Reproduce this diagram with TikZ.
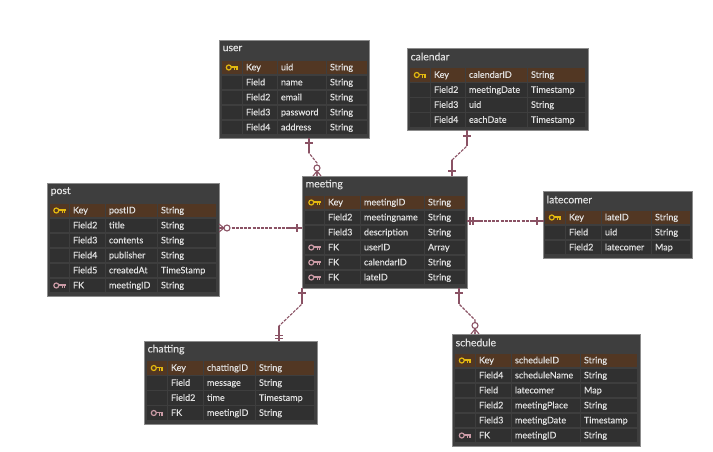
\documentclass[tikz,border=0pt]{standalone}
\usepackage{fontspec}
\setmainfont{Lato}[FakeBold=0.2]
\usetikzlibrary{fit}

\definecolor{tablebg}{HTML}{3E3E3E}
\definecolor{tableedge}{HTML}{8C8C8C}
\definecolor{cellbg}{HTML}{303030}
\definecolor{keybg}{HTML}{523723}
\definecolor{celltext}{HTML}{E2E2E2}
\definecolor{keygold}{HTML}{E3B80F}
\definecolor{keypink}{HTML}{C99AA5}
\definecolor{relline}{HTML}{8A5264}

\tikzset{
  erdbox/.style={draw=tableedge,line width=0.7pt,fill=tablebg,inner sep=0pt,outer sep=0pt},
  erdtitle/.style={anchor=west,inner sep=0pt,text=celltext,font=\fontsize{10.4}{12}\selectfont},
  cell/.style={anchor=west,fill=cellbg,text=celltext,inner xsep=3pt,inner ysep=0pt,outer sep=0pt,minimum height=13.4pt,text height=6.7pt,text depth=1.1pt,align=left,font=\fontsize{9}{10}\selectfont},
  keycell/.style={cell,fill=keybg},
  rel/.style={draw=relline,line width=1.1pt,dash pattern=on 3pt off 1.2pt},
  relmark/.style={draw=relline,line width=1.1pt},
  keyicon/.pic={
    \draw[line width=1.2pt] (-3.2,0) circle (2.5);
    \draw[line width=1.6pt] (-0.7,-0.4) -- (6,-0.4);
    \draw[line width=1.2pt] (2.6,-0.4) -- (2.6,2.6) (5,-0.4) -- (5,2.6);
  }
}

% column edges of the table being filled: icon, col1, col2, col3, right end
\newcommand{\erdcols}[5]{\def\colK{#1}\def\colA{#2}\def\colB{#3}\def\colC{#4}\def\colE{#5}}

% name, left, top, right, bottom, title
\newcommand{\erdtable}[6]{
  \node[erdbox,fit={(#2,#3) (#4,#5)}] (#1) {};
  \node[erdtitle] (#1-title) at (#2+3.5,#3+8.5) {#6};
}

% row: style, table, number, y, three texts
\newcommand{\erdrow}[7]{
  \pgfmathsetlengthmacro{\wK}{\colA-\colK-1}
  \pgfmathsetlengthmacro{\wA}{\colB-\colA-1-6}
  \pgfmathsetlengthmacro{\wB}{\colC-\colB-1-6}
  \pgfmathsetlengthmacro{\wC}{\colE-\colC-6}
  \node[#1,minimum width=\wK] (#2-#3-k) at (\colK,#4) {};
  \node[#1,text width=\wA] (#2-#3-a) at (\colA,#4) {#5};
  \node[#1,text width=\wB] (#2-#3-b) at (\colB,#4) {#6};
  \node[#1,text width=\wC] (#2-#3-c) at (\colC,#4) {#7};
}
\newcommand{\keyrow}[6]{\erdrow{keycell}{#1}{#2}{#3}{#4}{#5}{#6}
  \pic[color=keygold] at (#1-#2-k) {keyicon};}
\newcommand{\fkrow}[6]{\erdrow{cell}{#1}{#2}{#3}{#4}{#5}{#6}
  \pic[color=keypink] at (#1-#2-k) {keyicon};}
\newcommand{\plainrow}[6]{\erdrow{cell}{#1}{#2}{#3}{#4}{#5}{#6}}

\begin{document}
\begin{tikzpicture}[x=1pt,y=-1pt]
\useasboundingbox[fill=white] (0,0) rectangle (713,451);

% user
\erdtable{user}{219}{40}{369}{138}{user}
\erdcols{222}{243}{278}{327}{367}
\keyrow{user}{1}{67.5}{Key}{uid}{String}
\plainrow{user}{2}{82.5}{Field}{name}{String}
\plainrow{user}{3}{97.5}{Field2}{email}{String}
\plainrow{user}{4}{112.5}{Field3}{password}{String}
\plainrow{user}{5}{127.5}{Field4}{address}{String}

% calendar
\erdtable{calendar}{407}{48}{588}{130}{calendar}
\erdcols{410}{431}{466}{528}{585}
\keyrow{calendar}{1}{75}{Key}{calendarID}{String}
\plainrow{calendar}{2}{90}{Field2}{meetingDate}{Timestamp}
\plainrow{calendar}{3}{105}{Field3}{uid}{String}
\plainrow{calendar}{4}{120}{Field4}{eachDate}{Timestamp}

% meeting
\erdtable{meeting}{302}{176}{467}{288}{meeting}
\erdcols{305}{325}{361}{425}{465}
\keyrow{meeting}{1}{202.5}{Key}{meetingID}{String}
\plainrow{meeting}{2}{217.5}{Field2}{meetingname}{String}
\plainrow{meeting}{3}{232.5}{Field3}{description}{String}
\fkrow{meeting}{4}{247.5}{FK}{userID}{Array}
\fkrow{meeting}{5}{262.5}{FK}{calendarID}{String}
\fkrow{meeting}{6}{277.5}{FK}{lateID}{String}

% post
\erdtable{post}{47}{183}{219}{296}{post}
\erdcols{50}{70}{106}{158}{216}
\keyrow{post}{1}{210.5}{Key}{postID}{String}
\plainrow{post}{2}{225.5}{Field2}{title}{String}
\plainrow{post}{3}{240.5}{Field3}{contents}{String}
\plainrow{post}{4}{255.5}{Field4}{publisher}{String}
\plainrow{post}{5}{270.5}{Field5}{createdAt}{TimeStamp}
\fkrow{post}{6}{285.5}{FK}{meetingID}{String}

% latecomer
\erdtable{latecomer}{543}{191}{692}{258}{latecomer}
\erdcols{545}{566}{602}{652}{690}
\keyrow{latecomer}{1}{217.5}{Key}{lateID}{String}
\plainrow{latecomer}{2}{232.5}{Field}{uid}{String}
\plainrow{latecomer}{3}{247.5}{Field2}{latecomer}{Map}

% chatting
\erdtable{chatting}{144}{341}{317}{424}{chatting}
\erdcols{147}{168}{204}{256}{314}
\keyrow{chatting}{1}{368}{Key}{chattingID}{String}
\plainrow{chatting}{2}{383}{Field}{message}{String}
\plainrow{chatting}{3}{398}{Field2}{time}{Timestamp}
\fkrow{chatting}{4}{413}{FK}{meetingID}{String}

% schedule
\erdtable{schedule}{452}{334}{640}{446}{schedule}
\erdcols{455}{476}{512}{581}{637}
\keyrow{schedule}{1}{360.5}{Key}{scheduleID}{String}
\plainrow{schedule}{2}{375.5}{Field4}{scheduleName}{String}
\plainrow{schedule}{3}{390.5}{Field}{latecomer}{Map}
\plainrow{schedule}{4}{405.5}{Field2}{meetingPlace}{String}
\plainrow{schedule}{5}{420.5}{Field3}{meetingDate}{Timestamp}
\fkrow{schedule}{6}{435.5}{FK}{meetingID}{String}

% relations to meeting
\draw[rel] ([xshift=15pt]user.south) -- ++(0,15) -- ++(8,10) -- ([xshift=-67.5pt]meeting.north);
\draw[rel] ([xshift=-30.5pt]calendar.south) -- ++(0,16) -- ++(-15,14) -- ([xshift=67.5pt]meeting.north);
\draw[rel] ([yshift=11.5pt]post.east) -- ([yshift=4pt]meeting.west);
\draw[rel] ([yshift=3.5pt]meeting.east |- latecomer.west) -- ([yshift=3.5pt]latecomer.west);
\draw[rel] ([xshift=-82.5pt]meeting.south) -- ++(0,16) -- ++(-23,22) -- ([xshift=48.5pt]chatting.north);
\draw[rel] ([xshift=74.5pt]meeting.south) -- ++(0,16) -- ++(16,16) -- ([xshift=-71pt]schedule.north);

% end marks
\draw[relmark] (305,143) -- (313,143) (309,138) -- (309,153);
\draw[relmark] (317,171) -- (317,176) (317,171) -- (313,176) (317,171) -- (321,176);
\draw[relmark,fill=white] (317,168) circle (3);
\draw[relmark] (463,136) -- (471,136) (467,130) -- (467,146);
\draw[relmark] (448,171) -- (456,171) (452,160) -- (452,176);
\draw[relmark] (224,228) -- (219,224) (224,228) -- (219,232) (224,228) -- (219,228);
\draw[relmark,fill=white] (227,228) circle (3);
\draw[relmark] (297,224) -- (297,232) (287,228) -- (302,228);
\draw[relmark] (470,217) -- (470,225) (473,217) -- (473,225) (467,221) -- (480,221);
\draw[relmark] (537,217) -- (537,225) (530,221) -- (543,221);
\draw[relmark] (298,293) -- (306,293) (302,288) -- (302,304);
\draw[relmark] (275,335.5) -- (283,335.5) (275,338.5) -- (283,338.5) (279,326) -- (279,341);
\draw[relmark] (455,293) -- (463,293) (459,288) -- (459,304);
\draw[relmark] (475,329) -- (475,334) (475,329) -- (471,334) (475,329) -- (479,334);
\draw[relmark,fill=white] (475,325.5) circle (3);
\end{tikzpicture}
\end{document}
